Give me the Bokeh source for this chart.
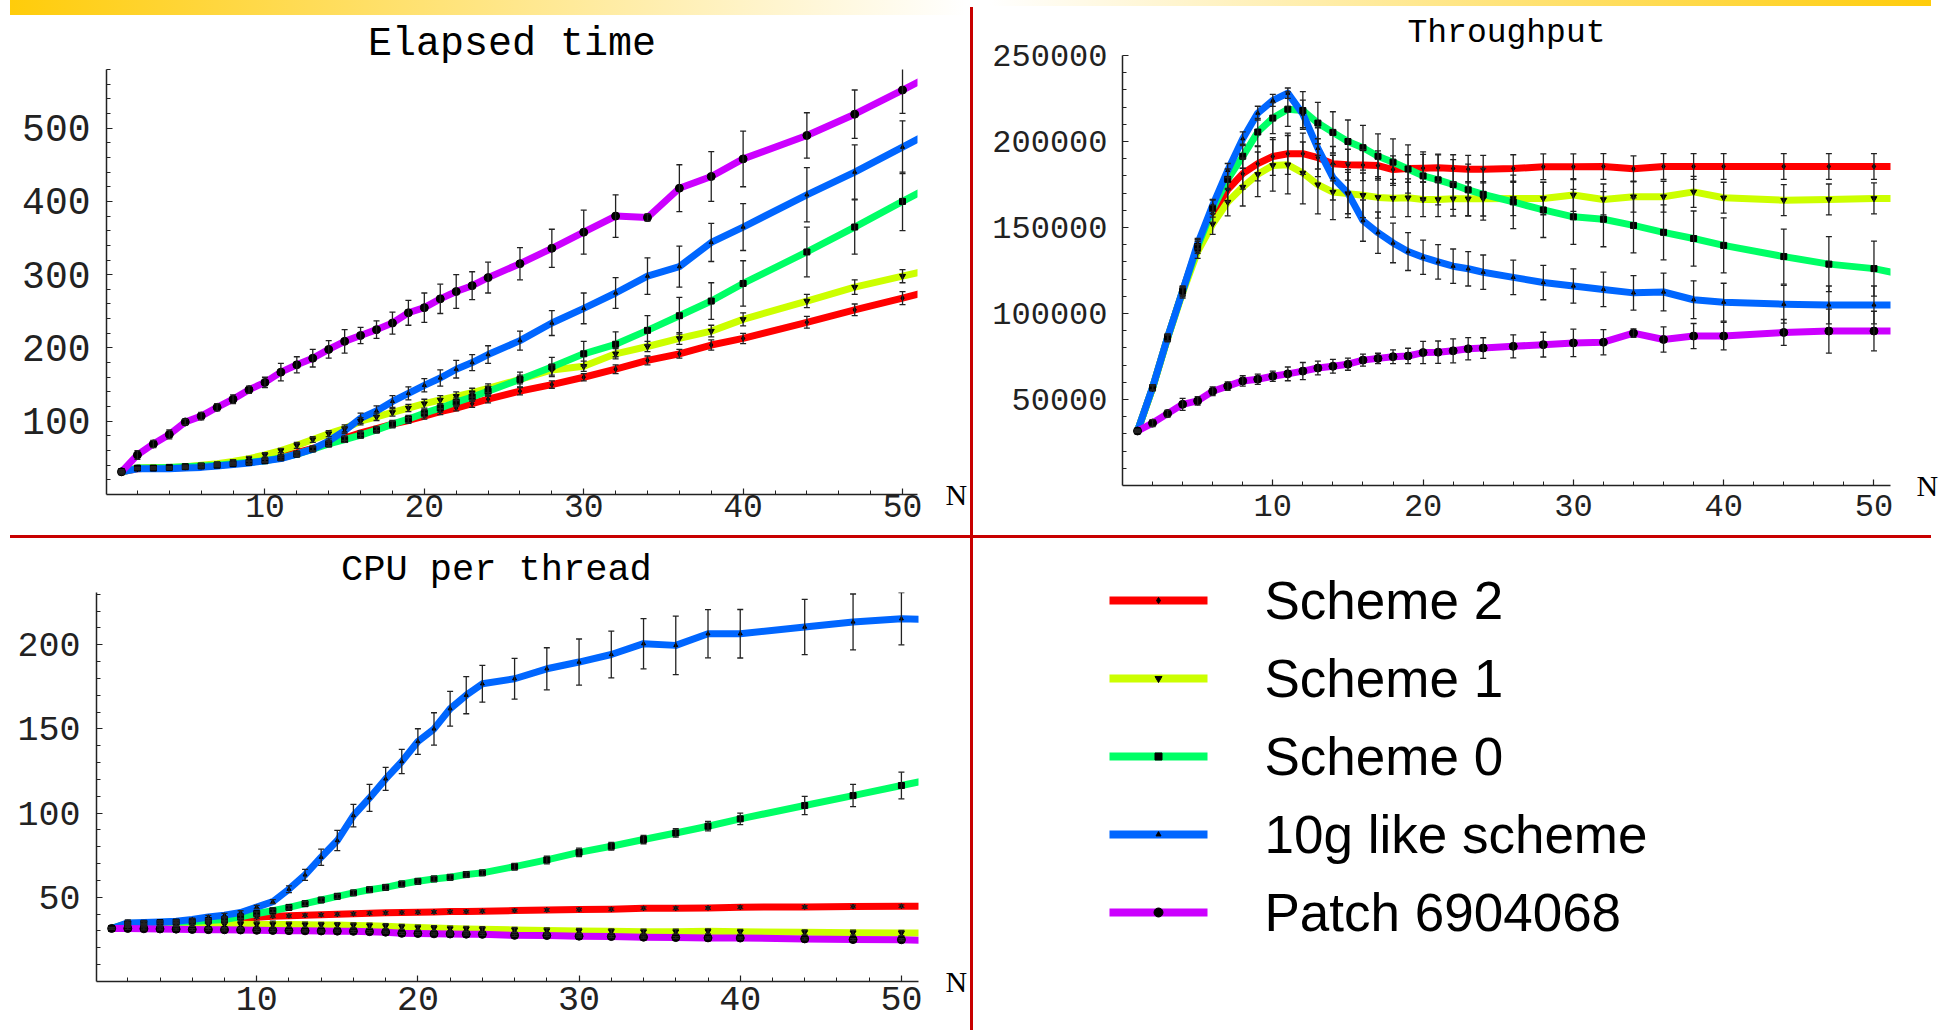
from bokeh.plotting import figure
from bokeh.models import (Range1d, FixedTicker, ColumnDataSource, Whisker, TeeHead,
                          Spacer, BasicTickFormatter, LinearAxis)
from bokeh.layouts import row, column
from bokeh.embed import file_html
from bokeh.resources import INLINE
from bokeh.core.properties import value

# ---------------------------------------------------------------- data
N = list(range(1, 25)) + [26, 28, 30, 32, 34, 36, 38, 40, 44, 47, 50, 52]
N_MEASURED = 35   # points up to N = 50 carry markers / error bars; N = 52 only continues the curve past the frame

SERIES = ["Scheme 2", "Scheme 1", "Scheme 0", "10g like scheme", "Patch 6904068"]

N_TICKS = [10, 20, 30, 40, 50]
N_MINOR = [2, 4, 6, 8, 12, 14, 16, 18, 22, 24, 26, 28, 32, 34, 36, 38, 42, 44, 46, 48]

# Elapsed time
ELAPSED_TICKS = [100, 200, 300, 400, 500]
ELAPSED_MINOR = [20, 40, 60, 80, 120, 140, 160, 180, 220, 240, 260, 280, 320, 340, 360, 380,
                 420, 440, 460, 480, 520, 540, 560, 580]
E_S2 = [31, 35, 36, 36, 37, 38, 40, 42, 44, 47, 52, 57, 63, 70, 77, 84, 90, 96, 101, 107,
        113, 118, 124, 130, 141, 150, 160, 171, 183, 192, 204, 213, 235, 252, 268, 279]
E_S2_ERR = [1, 1, 1, 1, 1, 1, 1, 2, 2, 2, 2, 2, 3, 3, 3, 3, 3, 4, 4, 4,
            4, 4, 5, 5, 5, 5, 5, 6, 6, 6, 7, 7, 8, 8, 9]
E_S1 = [31, 36, 37, 37, 38, 40, 42, 45, 49, 54, 60, 67, 75, 83, 90, 100, 106, 112, 118, 124,
        129, 134, 139, 145, 157, 170, 175, 192, 202, 213, 223, 239, 264, 283, 298, 308]
E_S1_ERR = [1, 1, 1, 1, 2, 2, 2, 2, 3, 3, 3, 4, 4, 4, 5, 5, 5, 5, 5, 6,
            6, 6, 6, 6, 6, 7, 7, 7, 7, 8, 8, 9, 9, 10, 9]
E_S0 = [31, 36, 36, 37, 38, 39, 40, 42, 44, 46, 50, 55, 62, 69, 75, 81, 88, 96, 103, 111,
        118, 126, 133, 141, 157, 174, 192, 205, 224, 244, 264, 288, 331, 365, 400, 423]
E_S0_ERR = [1, 1, 1, 1, 1, 2, 2, 2, 2, 2, 3, 3, 3, 4, 4, 4, 4, 5, 5, 5,
            6, 6, 6, 7, 10, 13, 17, 17, 20, 25, 25, 31, 34, 37, 40]
E_10G = [31, 35, 35, 35, 36, 37, 39, 41, 43, 46, 49, 55, 62, 73, 87, 104, 114, 127, 138, 149,
         159, 171, 180, 191, 210, 234, 254, 275, 298, 311, 344, 365, 409, 440, 474, 497]
E_10G_ERR = [1, 1, 1, 1, 1, 1, 1, 1, 2, 2, 2, 2, 3, 3, 4, 7, 7, 8, 9, 9,
             11, 12, 11, 12, 13, 17, 21, 21, 25, 28, 26, 32, 37, 37, 36]
E_PATCH = [31, 54, 69, 82, 99, 107, 119, 130, 143, 153, 167, 177, 186, 198, 209, 217, 225, 234, 248, 255,
           267, 277, 285, 296, 315, 336, 358, 380, 378, 418, 434, 458, 490, 519, 552, 574]
E_PATCH_ERR = [3, 6, 5, 6, 4, 5, 5, 6, 5, 7, 12, 11, 12, 12, 16, 11, 12, 15, 17, 20,
               20, 23, 19, 21, 22, 26, 30, 29, 5, 32, 34, 38, 31, 33, 32]

# Throughput
THROUGHPUT_TICKS = [50000, 100000, 150000, 200000, 250000]
THROUGHPUT_MINOR = [10000, 20000, 30000, 40000, 60000, 70000, 80000, 90000, 110000, 120000,
                    130000, 140000, 160000, 170000, 180000, 190000, 210000, 220000, 230000, 240000]
T_S2 = [31700, 56800, 86000, 113000, 139000, 158000, 172000, 181300, 187100, 191300,
        192900, 192900, 190600, 187100, 186500, 186300, 186000, 183700, 184300, 184500,
        184700, 184300, 183900, 183900, 184300, 185300, 185300, 185500, 184100, 185500,
        185500, 185500, 185500, 185500, 185500, 185500]
T_S2_ERR = [500, 1500, 2000, 2500, 3000, 5000, 7000, 9000, 10000, 11000,
            12000, 12000, 11000, 10000, 9000, 9000, 8500, 8000, 8000, 8000,
            8000, 8000, 8000, 8000, 8000, 7500, 7500, 7500, 7500, 7500,
            7500, 7500, 7500, 7500, 7500]
T_S1 = [31700, 56500, 85500, 112000, 136000, 152000, 164800, 173500, 180900, 186100,
        186500, 181700, 174900, 170600, 169700, 168700, 167500, 167000, 167300, 166300,
        166300, 166700, 166700, 166700, 166900, 166900, 168900, 166300, 167900, 167900,
        170700, 167300, 165900, 166300, 166900, 166900]
T_S1_ERR = [500, 1500, 2000, 3000, 4000, 6000, 8000, 11000, 13000, 15000,
            17000, 18000, 17000, 16000, 14000, 13000, 12000, 11000, 11000, 10000,
            10000, 10000, 10000, 10000, 10000, 9500, 9500, 9000, 9000, 9000,
            9000, 9000, 9000, 9000, 9000]
T_S0 = [31700, 56800, 86000, 113000, 139000, 161000, 178000, 191400, 205500, 213600,
        218800, 218000, 210700, 205300, 200000, 196400, 191400, 188000, 184000, 180000,
        177700, 175000, 171900, 169300, 164900, 160200, 156200, 154800, 151200, 147200,
        143600, 139600, 133100, 128700, 126100, 122500]
T_S0_ERR = [500, 1500, 2000, 3000, 4000, 5000, 6000, 7000, 8000, 9000,
            10000, 11000, 12000, 12000, 12500, 13000, 13000, 13500, 14000, 14000,
            14500, 14500, 15000, 15000, 15500, 16000, 16000, 16000, 16000, 16000,
            16000, 16000, 16000, 16000, 16000]
T_10G = [31700, 57000, 86000, 113000, 140600, 162900, 183200, 201600, 216500, 223900,
         228100, 216000, 196000, 179000, 170000, 154000, 147000, 141000, 136000, 132700,
         130000, 127500, 126000, 124000, 121000, 118000, 116000, 114000, 112000, 112500,
         108000, 106600, 105400, 105000, 105000, 105000]
T_10G_ERR = [500, 1500, 2000, 2500, 3000, 3500, 4000, 4000, 4000, 3500,
             3000, 8000, 12000, 13000, 12000, 12000, 12000, 11500, 11000, 10000,
             10000, 10000, 10000, 10000, 10000, 10000, 10000, 10000, 10000, 11000,
             11000, 11000, 11000, 11000, 11000]
T_PATCH = [31700, 36300, 41800, 47200, 49200, 54800, 57800, 60800, 61800, 63500,
           64900, 66500, 68300, 69300, 70500, 72900, 73900, 74900, 75300, 77300,
           77500, 78300, 79500, 79900, 80900, 81900, 82900, 83300, 88600, 84900,
           86900, 86900, 89000, 89800, 89800, 89800]
T_PATCH_ERR = [1000, 2000, 2000, 3500, 2500, 2500, 2500, 3000, 3000, 3000,
               4000, 5000, 4000, 4000, 3500, 3500, 3000, 4000, 4500, 6500,
               6500, 7000, 6500, 6000, 6700, 7200, 8000, 7300, 2500, 7300,
               7300, 8000, 7500, 12800, 11500]

# CPU per thread
CPU_TICKS = [50, 100, 150, 200]
CPU_MINOR = [10, 20, 30, 40, 60, 70, 80, 90, 110, 120, 130, 140, 160, 170, 180, 190, 210, 220, 230]
C_S2 = [31.5, 33.5, 33.7, 34.0, 34.2, 34.5, 35.0, 35.5, 36.5, 38.2, 38.8, 39.0, 39.3, 39.6, 39.9, 40.2,
        40.5, 40.8, 41.0, 41.1, 41.3, 41.5, 41.5, 41.7, 42.1, 42.5, 42.7, 42.9, 43.5, 43.5,
        43.7, 44.1, 44.3, 44.5, 44.7, 44.8]
C_S2_ERR = [0.5, 0.8, 0.8, 0.8, 0.8, 0.8, 0.8, 0.8, 0.8, 0.8, 0.8, 0.8, 0.8, 0.8, 0.8, 0.8, 0.8, 0.8,
            0.8, 0.8, 0.8, 0.8, 0.8, 0.8, 0.8, 0.8, 0.8, 0.8, 0.8, 0.8, 0.8, 0.8, 0.8, 0.8, 0.8]
C_S1 = [31.5, 34.6, 34.5, 34.4, 34.3, 34.2, 34.1, 34.0, 34.0, 33.9, 33.9, 33.8, 33.7, 33.6, 33.5, 33.3,
        33.1, 32.8, 32.4, 32.0, 31.7, 31.4, 31.2, 31.0, 30.6, 30.3, 30.0, 29.8, 29.6, 29.6,
        29.8, 29.5, 29.2, 29.0, 28.8, 28.7]
C_S1_ERR = [0.5, 2.0, 1.5, 1.5, 1.5, 1.5, 2.0, 2.0, 2.0, 2.0, 2.0, 1.5, 1.5, 1.5, 1.5, 1.5, 1.5, 1.5,
            1.5, 1.5, 1.5, 1.5, 1.5, 1.5, 1.5, 1.5, 1.5, 1.5, 1.5, 1.5, 1.5, 1.5, 1.5, 1.5, 1.5]
C_S0 = [31.5, 34.2, 34.6, 35.0, 35.3, 35.6, 36.2, 36.8, 38.4, 40.4, 42.0, 44.0, 46.2, 48.4, 50.6, 52.6,
        54.5, 55.9, 57.9, 59.5, 60.9, 61.9, 63.5, 64.5, 68.2, 72.2, 76.7, 80.3, 84.3, 88.2,
        92.2, 96.6, 104.5, 110.4, 116.4, 120.4]
C_S0_ERR = [0.5, 0.8, 0.8, 0.8, 0.8, 0.8, 1.0, 1.0, 1.0, 1.0, 1.0, 1.0, 1.2, 1.2, 1.2, 1.5, 1.5, 1.5,
            1.5, 1.5, 1.5, 1.5, 1.5, 1.5, 2.0, 2.3, 2.5, 2.3, 2.5, 2.5, 2.8, 3.4, 5.4, 6.6, 7.9]
C_10G = [31.5, 34.8, 35.0, 35.3, 35.8, 36.8, 38.3, 39.4, 41.0, 44.2, 47.4, 54.8, 63.3, 73.8, 83.7, 98.5,
         109.0, 120.3, 130.6, 142.5, 150.0, 162.0, 170.0, 176.8, 179.8, 185.7, 189.7, 194.2, 200.6, 199.6,
         206.5, 206.5, 210.5, 213.5, 215.4, 215.0]
C_10G_ERR = [0.5, 1.0, 0.8, 0.8, 0.8, 0.8, 1.0, 1.0, 1.0, 1.0, 1.2, 2.0, 3.3, 4.8, 6.0, 6.7, 8.0, 6.8,
             7.2, 7.6, 9.6, 10.3, 11.0, 10.9, 12.1, 12.5, 13.7, 13.9, 14.9, 17.4, 14.3, 14.4, 16.4, 16.6, 15.5]
C_PATCH = [31.5, 31.5, 31.3, 31.2, 31.1, 30.9, 30.8, 30.7, 30.6, 30.4, 30.3, 30.2, 30.1, 30.0, 29.9, 29.8,
           29.6, 29.3, 28.6, 28.5, 28.3, 28.2, 28.1, 28.0, 27.4, 27.3, 26.9, 26.7, 26.3, 26.1,
           25.9, 25.8, 25.3, 24.9, 24.8, 24.2]
C_PATCH_ERR = [0.6, 0.6, 0.6, 0.6, 0.6, 0.6, 0.6, 0.6, 0.6, 0.6, 0.6, 0.6, 0.6, 0.6, 0.6, 0.6, 0.6, 0.6,
               0.6, 0.6, 0.6, 0.6, 0.6, 0.6, 0.6, 0.6, 0.6, 0.6, 0.6, 0.6, 0.6, 0.6, 0.6, 0.6, 0.6]

# ---------------------------------------------------------------- styles
COLORS = ["#ff0000", "#ccff00", "#00ff66", "#0066ff", "#cc00ff"]
MARKERS = [("diamond", 5), ("inverted_triangle", 6), ("square", 6), ("triangle", 4), ("circle", 8)]
LEGEND_MARKER_SIZE = [6, 7, 7, 5, 9]
INK = "#222222"
SEP = "#c80000"
GOLD = "#ffcc0a"
MONO = "Liberation Mono"


def make_panel(width, height, borders, xr, yr, yticks, yminor, ytick_px, xtick_px, x_standoff, y_standoff,
               title, title_px, title_standoff, n_standoff, values, errors):
    left, right, top, bottom = borders
    p = figure(width=width, height=height, x_range=Range1d(*xr), y_range=Range1d(*yr),
               toolbar_location=None, output_backend="svg",
               min_border_left=left, min_border_right=right, min_border_top=top, min_border_bottom=bottom)
    p.outline_line_color = None
    p.grid.visible = False
    p.background_fill_color = "white"
    p.border_fill_color = "white"

    p.title.text = title
    p.title.align = "center"
    p.title.text_font = MONO
    p.title.text_font_size = f"{title_px}px"
    p.title.text_font_style = "normal"
    p.title.text_color = "black"
    p.title.standoff = title_standoff
    p.title.offset = 0

    p.xaxis.ticker = FixedTicker(ticks=N_TICKS, minor_ticks=N_MINOR)
    p.yaxis.ticker = FixedTicker(ticks=yticks, minor_ticks=yminor)
    p.yaxis.formatter = BasicTickFormatter(use_scientific=False)
    for ax in (p.xaxis[0], p.yaxis[0]):
        ax.axis_line_color = INK
        ax.axis_line_width = 1.5
        ax.major_tick_line_color = INK
        ax.minor_tick_line_color = INK
        ax.major_tick_line_width = 1.2
        ax.minor_tick_line_width = 1.0
        ax.major_tick_in = 6
        ax.major_tick_out = 0
        ax.minor_tick_in = 4
        ax.minor_tick_out = 0
        ax.major_label_text_font = MONO
        ax.major_label_text_color = INK
        ax.major_label_text_font_style = "normal"
    p.xaxis.major_label_text_font_size = f"{xtick_px}px"
    p.yaxis.major_label_text_font_size = f"{ytick_px}px"
    p.xaxis.major_label_standoff = x_standoff
    p.yaxis.major_label_standoff = y_standoff

    # the "N" variable name sits at the right end of the horizontal axis
    n_axis = LinearAxis(ticker=FixedTicker(ticks=[0]), major_label_overrides={0: "N"},
                        axis_line_color=None, major_tick_line_color=None, minor_tick_line_color=None,
                        major_label_standoff=n_standoff, major_label_text_font="Liberation Serif",
                        major_label_text_font_size="30px", major_label_text_color="black")
    p.add_layout(n_axis, "right")

    for vals, col in zip(values, COLORS):
        p.line(N, vals, line_color=col, line_width=7, line_join="round")
    for vals, errs, (mk, sz) in zip(values, errors, MARKERS):
        xs = N[:N_MEASURED]
        ys = vals[:N_MEASURED]
        src = ColumnDataSource(dict(x=xs, upper=[v + e for v, e in zip(ys, errs)],
                                    lower=[v - e for v, e in zip(ys, errs)]))
        w = Whisker(source=src, base="x", upper="upper", lower="lower",
                    line_color=INK, line_width=1.3, level="annotation",
                    upper_head=TeeHead(size=6, line_color=INK, line_width=1.3),
                    lower_head=TeeHead(size=6, line_color=INK, line_width=1.3))
        p.add_layout(w)
        p.scatter(xs, ys, marker=mk, size=sz, fill_color="black", line_color="black")
    return p


# page is drawn from (0, 0); left column 970 px, separator 3 px, right column 968 px
p1 = make_panel(970, 520, (106, 51, 54, 41), (0.06, 50.94), (0, 580), ELAPSED_TICKS, ELAPSED_MINOR,
                38, 33, 0, 16, "Elapsed time", 40, 5, 22,
                [E_S2, E_S1, E_S0, E_10G, E_PATCH],
                [E_S2_ERR, E_S1_ERR, E_S0_ERR, E_10G_ERR, E_PATCH_ERR])
p2 = make_panel(968, 529, (149, 42, 49, 50), (0.0, 51.1), (0, 250000), THROUGHPUT_TICKS, THROUGHPUT_MINOR,
                32, 32, 9, 15, "Throughput", 33, 7, 20,
                [T_S2, T_S1, T_S0, T_10G, T_PATCH],
                [T_S2_ERR, T_S1_ERR, T_S0_ERR, T_10G_ERR, T_PATCH_ERR])
p3 = make_panel(970, 492, (96, 50, 54, 49), (0.06, 51.06), (0, 231), CPU_TICKS, CPU_MINOR,
                35, 35, 5, 16, "CPU  per thread", 37, 4, 21,
                [C_S2, C_S1, C_S0, C_10G, C_PATCH],
                [C_S2_ERR, C_S1_ERR, C_S0_ERR, C_10G_ERR, C_PATCH_ERR])

# legend panel (pixel coordinates, origin top-left of the panel)
p4 = figure(width=968, height=492, x_range=Range1d(0, 968), y_range=Range1d(492, 0),
            x_axis_location=None, y_axis_location=None, toolbar_location=None,
            output_backend="svg", min_border=0)
p4.outline_line_color = None
p4.grid.visible = False
leg_y = [62 + 78 * i for i in range(len(SERIES))]
p4.segment(x0=136, x1=234, y0=leg_y, y1=leg_y, line_color=COLORS, line_width=8)
p4.scatter(x=[185] * len(SERIES), y=leg_y, marker=[m for m, _ in MARKERS], size=LEGEND_MARKER_SIZE,
           fill_color="black", line_color="black")
p4.text(x=[291] * len(SERIES), y=leg_y, text=SERIES, text_font=value("Liberation Sans"),
        text_font_size=value("53px"), text_color="black", text_align="left", text_baseline="middle")

# decorations: gold gradient strips and dark-red separators
strip_l = Spacer(width=970, height=15, margin=0,
                 styles={"background": f"linear-gradient(to right, #ffffff 10px, {GOLD} 10px, #ffffff 965px)"})
strip_r = Spacer(width=968, height=6, margin=0,
                 styles={"background": f"linear-gradient(to right, #ffffff 17px, {GOLD} 958px, #ffffff 958px)"})
vsep1 = Spacer(width=3, height=535, margin=0,
               styles={"background": f"linear-gradient(to bottom, #ffffff 7px, {SEP} 7px)"})
vsep2 = Spacer(width=3, height=492, margin=0, styles={"background-color": SEP})
hsep = Spacer(width=1941, height=3, margin=0,
              styles={"background": f"linear-gradient(to right, #ffffff 10px, {SEP} 10px, {SEP} 1931px, #ffffff 1931px)"})

top_row = row(column(strip_l, p1, spacing=0), vsep1, column(strip_r, p2, spacing=0), spacing=0)
bottom_row = row(column(p3, spacing=0), vsep2, column(p4, spacing=0), spacing=0)
layout = column(top_row, hsep, bottom_row, spacing=0)

open("out.html", "w").write(file_html(layout, INLINE))
